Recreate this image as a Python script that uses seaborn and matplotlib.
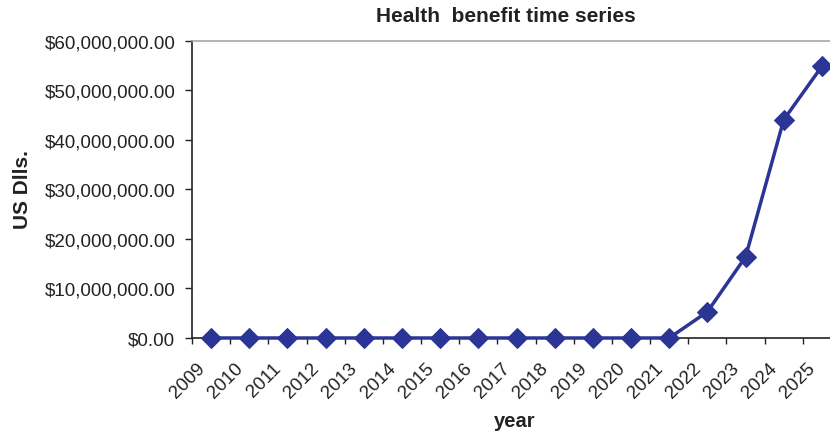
import numpy as np
import pandas as pd
import seaborn as sns
import matplotlib
matplotlib.use("Agg")
import matplotlib.pyplot as plt
import matplotlib.transforms as mtransforms
from matplotlib.ticker import FuncFormatter

years = [2009, 2010, 2011, 2012, 2013, 2014, 2015, 2016, 2017,
         2018, 2019, 2020, 2021, 2022, 2023, 2024, 2025]
benefit = [0, 0, 0, 0, 0, 0, 0, 0, 0,
           0, 0, 0, 0, 5.3e6, 16.4e6, 44.1e6, 54.9e6]
y_ticks = [0, 10e6, 20e6, 30e6, 40e6, 50e6, 60e6]

sns.set_style("white")
plt.rcParams["font.family"] = ["Liberation Sans", "DejaVu Sans"]

df = pd.DataFrame({"year": years, "benefit": benefit})

fig = plt.figure(figsize=(8.3, 4.35), dpi=100)
ax = fig.add_axes([0.2313, 0.2207, 0.782, 0.6828])

line_color = "#2b3595"
sns.lineplot(data=df, x="year", y="benefit", ax=ax, color=line_color,
             linewidth=2.5, marker="D", markersize=10,
             markeredgecolor=line_color, markerfacecolor=line_color,
             clip_on=False, zorder=5)

ax.set_xlim(years[0] - 0.5, years[-1] + 0.5)
ax.set_ylim(0, 60e6)
ax.set_yticks(y_ticks)
ax.yaxis.set_major_formatter(FuncFormatter(lambda v, p: f"${v:,.2f}"))

# category labels at centres, tick marks at category boundaries
ax.set_xticks(years)
ax.set_xticklabels([str(y) for y in years], rotation=45, ha="right",
                   va="center", rotation_mode="anchor", fontsize=13.5,
                   color="#222222")
ax.set_xticks(np.arange(years[0] - 0.5, years[-1] + 1.0, 1.0), minor=True)
ax.tick_params(axis="x", which="major", length=0, pad=19.5)
ax.tick_params(axis="x", which="minor", length=4.5, width=1,
               color="#222222", direction="out", bottom=True)
shift = mtransforms.ScaledTranslation(-0.09, 0, fig.dpi_scale_trans)
for lbl in ax.get_xticklabels():
    lbl.set_transform(lbl.get_transform() + shift)

ax.tick_params(axis="y", which="major", length=5, width=1, color="#222222",
               direction="out", left=True, pad=7, labelsize=13.5,
               labelcolor="#222222")

for side in ["left", "bottom"]:
    ax.spines[side].set_color("#222222")
    ax.spines[side].set_linewidth(1.2)
ax.spines["top"].set_color("#a8a8a8")
ax.spines["top"].set_linewidth(1.2)
ax.spines["right"].set_visible(False)
ax.set_xlabel("")
ax.set_ylabel("")

fig.text(506 / 830, 1 - 17 / 435, "Health  benefit time series",
         ha="center", va="center", fontsize=15, fontweight="bold",
         color="#222222")
fig.text(22 / 830, 1 - 190 / 435, "US Dlls.", rotation=90, ha="center",
         va="center", fontsize=15, fontweight="bold", color="#222222")
fig.text(515 / 830, 1 - 422 / 435, "year", ha="center", va="center",
         fontsize=14.5, fontweight="bold", color="#222222")

fig.savefig("out.png", dpi=100)
